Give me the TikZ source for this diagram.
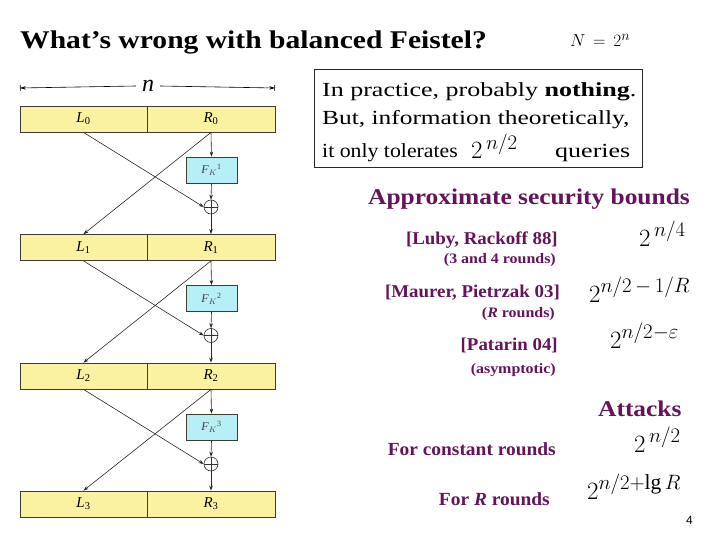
\documentclass[tikz,border=0pt]{standalone}
\usepackage{fontspec}
\setmainfont{Liberation Serif}
\newfontfamily\sansnum{Liberation Sans}
\newfontfamily\fT[FakeStretch=1.16]{Liberation Serif}
\newfontfamily\fH[FakeStretch=1.13]{Liberation Serif}
\newfontfamily\fM[FakeStretch=1.05]{Liberation Serif}
\newfontfamily\fP[FakeStretch=1.10]{Liberation Serif}
\newfontfamily\fRa[FakeStretch=1.30]{Liberation Serif}
\newfontfamily\fRb[FakeStretch=1.27]{Liberation Serif}
\newfontfamily\fRc[FakeStretch=1.09]{Liberation Serif}
\DeclareMathSizes{27}{27}{21.5}{16}
\DeclareMathSizes{28}{28}{22.5}{17}
\usetikzlibrary{arrows.meta}
\definecolor{blockyellow}{RGB}{250,242,160}
\definecolor{fcyan}{RGB}{182,240,246}
\definecolor{purp}{RGB}{100,20,90}
\definecolor{edgegray}{RGB}{60,60,50}
\tikzset{
  half/.style={draw=edgegray, line width=0.8pt, fill=blockyellow, minimum height=26pt, inner sep=0pt, font=\fontsize{15}{17}\selectfont\itshape},
  fbox/.style={draw=edgegray, line width=0.8pt, fill=fcyan, minimum width=51pt, minimum height=26pt, inner sep=0pt, font=\fontsize{12}{14}\selectfont\itshape, text=black!75},
  xorc/.style={draw=black!80, line width=0.6pt, circle, minimum size=14pt, inner sep=0pt},
  conn/.style={draw=black!85, line width=0.6pt, -{Stealth[length=5pt,width=3.5pt]}},
  purptext/.style={text=purp, inner sep=0pt},
  lbl/.style={inner sep=0pt},
  headfont/.style={font=\fontsize{22.5}{26}\selectfont\fH\bfseries},
  reffont/.style={font=\fontsize{18}{20}\selectfont\fM\bfseries},
  parfont/.style={font=\fontsize{14.5}{16}\selectfont\fP\bfseries},
  remfont/.style={font=\fontsize{20}{24}\selectfont},
  bigmath/.style={font=\fontsize{27}{30}\selectfont}
}
\begin{document}
\begin{tikzpicture}[x=1pt,y=-1pt]
\useasboundingbox (0,0) rectangle (720,540);
\fill[white] (0,0) rectangle (720,540);

% title
\node[lbl, anchor=base west, font=\fontsize{25.5}{28}\selectfont\fT\bfseries] (title) at (20,49) {What’s wrong with balanced Feistel?};
\node[lbl, anchor=base west, font=\fontsize{19}{22}\selectfont] (bigN) at (570,47) {$N \,=\, 2^{n}$};

% width arrow
\node[lbl, fill=white, inner xsep=6pt, font=\fontsize{24}{26}\selectfont\itshape] (nlab) at (148,86) {n};
\coordinate (wl) at (20,88);
\coordinate (wr) at (275,88);
\draw[line width=0.6pt, {Bar[width=6pt]Stealth[length=5pt,width=3.5pt]}-] (wl) -- (nlab.west);
\draw[line width=0.6pt, -{Stealth[length=5pt,width=3.5pt]Bar[width=6pt]}] (nlab.east) -- (wr);

% blocks
\foreach \i/\y in {0/106,1/234.5,2/363,3/491}{
  \node[half, minimum width=127pt] (L\i) at (83.5,\y+13) {L$_{\mathrm{\i}}$};
  \node[half, minimum width=128pt] (R\i) at (211,\y+13) {R$_{\mathrm{\i}}$};
}
\foreach \i/\y in {1/132,2/260.5,3/389}{
  \node[fbox] (F\i) at (211.5,\y+38) {F$_{K}{}^{\mathrm{\i}}$};
  \node[xorc] (X\i) at (211,\y+75) {};
  \draw[line width=0.6pt, black!80] (X\i.north) -- (X\i.south) (X\i.west) -- (X\i.east);
}
\foreach \i/\j in {0/1,1/2,2/3}{
  \draw[conn] (R\i.south) -- (F\j.north);
  \draw[conn] (F\j.south) -- (X\j.north);
  \draw[conn] (X\j.south) -- (R\j.north);
  \draw[conn] (L\i.south) -- (X\j.west);
  \draw[conn] (R\i.south) -- (L\j.north);
}

% box with remark
\node[draw=black!85, line width=0.8pt, minimum width=328pt, minimum height=98pt, inner sep=0pt] (remark) at (478,118.5) {};
\node[lbl, anchor=base west, remfont] (r1) at (322,97) {\fRa In practice, probably \textbf{nothing}.};
\node[lbl, anchor=base west, remfont] (r2) at (322,125) {\fRb But, information theoretically,};
\node[lbl, anchor=base west, remfont] (r3) at (322,158) {\fRc it only tolerates};
\node[lbl, anchor=base west, font=\fontsize{28}{30}\selectfont] (r3m) at (471,159) {$2^{\,n/2}$};
\node[lbl, anchor=base west, remfont] (r3q) at (555,158) {\fRa queries};

% security bounds
\node[purptext, anchor=base west, headfont] (asb) at (368,205) {Approximate security bounds};
\node[purptext, anchor=base east, reffont] (luby) at (558,244) {[Luby, Rackoff 88]};
\node[purptext, anchor=base east, parfont] (luby2) at (556,263) {(3 and 4 rounds)};
\node[lbl, anchor=base west, bigmath] (b1) at (639,246) {$2^{\,n/4}$};

\node[purptext, anchor=base east, reffont] (maurer) at (560,297) {[Maurer, Pietrzak 03]};
\node[purptext, anchor=base east, parfont] (maurer2) at (555,317) {(\textit{R} rounds)};
\node[lbl, anchor=base west, bigmath] (b2) at (589,302) {$2^{n/2\,-\,1/R}$};

\node[purptext, anchor=base east, reffont] (patarin) at (558,350) {[Patarin 04]};
\node[purptext, anchor=base east, parfont] (patarin2) at (556,373) {(asymptotic)};
\node[lbl, anchor=base west, bigmath] (b3) at (610,348) {$2^{n/2-\varepsilon}$};

% attacks
\node[purptext, anchor=base west, headfont] (att) at (598,416) {Attacks};
\node[lbl, anchor=base west, bigmath] (a1) at (634,452) {$2^{\,n/2}$};
\node[purptext, anchor=base east, font=\fontsize{18.5}{20}\selectfont\fM\bfseries] (const) at (556,455) {For constant rounds};
\node[lbl, anchor=base west, bigmath] (a2) at (587,499) {$2^{n/2+\lg R}$};
\node[purptext, anchor=base east, font=\fontsize{18.5}{20}\selectfont\fM\bfseries] (forR) at (550,505) {For \textit{R} rounds};

\node[lbl, anchor=base east, font=\fontsize{12}{14}\selectfont\sansnum] (pg) at (693,524) {4};
\end{tikzpicture}
\end{document}
